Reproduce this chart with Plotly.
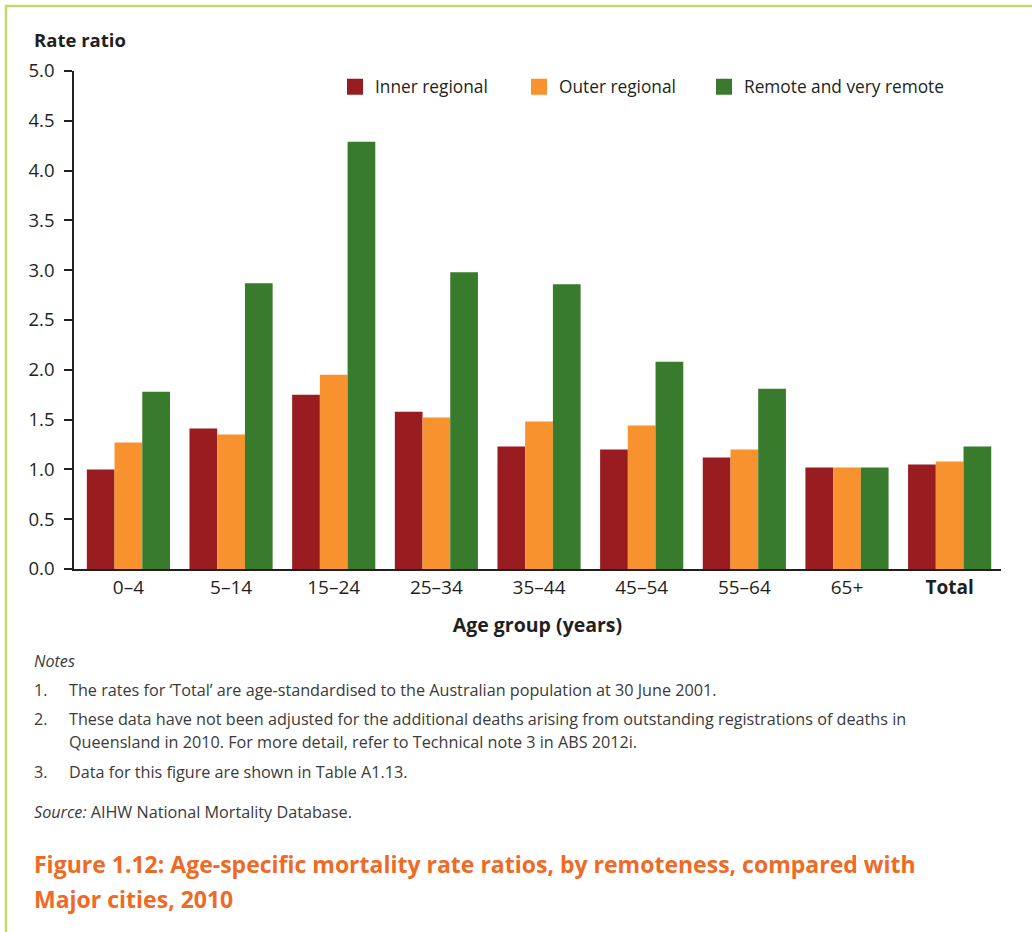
import plotly.graph_objects as go

categories = ["0–4", "5–14", "15–24", "25–34", "35–44", "45–54", "55–64", "65+", "Total"]
tick_labels = ["0–4", "5–14", "15–24", "25–34", "35–44", "45–54", "55–64", "65+", "<b>Total</b>"]
inner_regional = [1.00, 1.41, 1.75, 1.58, 1.23, 1.20, 1.12, 1.02, 1.05]
outer_regional = [1.27, 1.35, 1.95, 1.52, 1.48, 1.44, 1.20, 1.02, 1.08]
remote = [1.78, 2.87, 4.29, 2.98, 2.86, 2.08, 1.81, 1.02, 1.23]
series_names = ["Inner regional", "Outer regional", "Remote and very remote"]
y_ticks = [0.0, 0.5, 1.0, 1.5, 2.0, 2.5, 3.0, 3.5, 4.0, 4.5, 5.0]

colors = ["#981c20", "#f7922e", "#397b2c"]
FONT = "Open Sans"
TXT = "#231f20"
NOTE = "#3a3a3a"
W, H = 1032, 932
L, R, T, B = 74, 31, 71, 363
PW = W - L - R
PH = H - T - B


def px(xp):
    return (xp - L) / PW


def py(yp):
    return (H - B - yp) / PH


fig = go.Figure()
for name, vals, c in zip(series_names, [inner_regional, outer_regional, remote], colors):
    fig.add_trace(go.Bar(x=categories, y=vals, name=name, marker=dict(color=c, line=dict(width=0)),
                         showlegend=False))
legend_ids = ["legend", "legend2", "legend3"]
legend_x = [335, 519, 704]
for name, c, lid in zip(series_names, colors, legend_ids):
    fig.add_trace(go.Scatter(x=[None], y=[None], mode="markers", name=name, legend=lid,
                             marker=dict(symbol="square", size=19, color=c)))

legend_layout = {}
for lid, lx in zip(legend_ids, legend_x):
    legend_layout[lid] = dict(orientation="h", x=px(lx), y=py(87), xanchor="left", yanchor="middle",
                              font=dict(size=17.3, family=FONT, color=TXT),
                              bgcolor="rgba(0,0,0,0)", itemwidth=30)

fig.update_layout(
    width=W, height=H,
    margin=dict(l=L, r=R, t=T, b=B),
    paper_bgcolor="white", plot_bgcolor="white",
    barmode="group", bargap=0.19, bargroupgap=0,
    font=dict(family=FONT, color=TXT, size=17),
    showlegend=True,
    xaxis=dict(type="category", range=[-0.53, 8.5], showline=True, linecolor=TXT, linewidth=2,
               ticks="", tickvals=categories, ticktext=tick_labels,
               tickfont=dict(size=19, family=FONT, color=TXT), showgrid=False, zeroline=False,
               title=dict(text="<b>Age group (years)</b>", font=dict(size=19.5, family=FONT, color=TXT),
                          standoff=20)),
    yaxis=dict(range=[0, 5], tickvals=y_ticks, tickformat=".1f", showline=True, linecolor=TXT,
               linewidth=1.5, ticks="outside", ticklen=8, tickwidth=1.5, tickcolor=TXT,
               ticklabelstandoff=6,
               tickfont=dict(size=18.5, family=FONT, color=TXT), showgrid=False, zeroline=False),
    **legend_layout,
)

# frame border (top and left)
fig.add_shape(type="line", xref="paper", yref="paper", x0=px(5), x1=px(1032), y0=py(6), y1=py(6),
              line=dict(color="#c3d66f", width=2.5))
fig.add_shape(type="line", xref="paper", yref="paper", x0=px(6), x1=px(6), y0=py(5), y1=py(932),
              line=dict(color="#c3d66f", width=2.5))

NS = 16.2
ann = []
ann.append(dict(text="<b>Rate ratio</b>", x=px(32), y=py(39), xanchor="left", yanchor="middle",
                font=dict(size=18.5, family=FONT, color=TXT)))
ann.append(dict(text="<i>Notes</i>", x=px(32), y=py(661), xanchor="left", yanchor="middle",
                font=dict(size=NS, family=FONT, color=NOTE)))
notes = [
    ("1.", ["The rates for ‘Total’ are age-standardised to the Australian population at 30 June 2001."], 690),
    ("2.", ["These data have not been adjusted for the additional deaths arising from outstanding registrations of deaths in",
            "Queensland in 2010. For more detail, refer to Technical note 3 in ABS 2012i."], 719),
    ("3.", ["Data for this figure are shown in Table A1.13."], 772),
]
for num, lines, yp in notes:
    ann.append(dict(text=num, x=px(32), y=py(yp), xanchor="left", yanchor="middle",
                    font=dict(size=NS, family=FONT, color=NOTE)))
    for i, line in enumerate(lines):
        ann.append(dict(text=line, x=px(67), y=py(yp + 23 * i), xanchor="left", yanchor="middle",
                        font=dict(size=NS, family=FONT, color=NOTE)))
ann.append(dict(text="<i>Source:</i> AIHW National Mortality Database.", x=px(32), y=py(812),
                xanchor="left", yanchor="middle", font=dict(size=NS, family=FONT, color=NOTE)))
ann.append(dict(text="<b>Figure 1.12: Age-specific mortality rate ratios, by remoteness, compared with</b>",
                x=px(32), y=py(864), xanchor="left", yanchor="middle",
                font=dict(size=23, family=FONT, color="#ef6a25")))
ann.append(dict(text="<b>Major cities, 2010</b>", x=px(32), y=py(899), xanchor="left", yanchor="middle",
                font=dict(size=23, family=FONT, color="#ef6a25")))
for a in ann:
    a.update(xref="paper", yref="paper", showarrow=False)
fig.update_layout(annotations=ann)

fig.write_html("out.html", config={"displayModeBar": False},
               post_script="document.body.style.margin='0';document.body.style.overflow='hidden';")
